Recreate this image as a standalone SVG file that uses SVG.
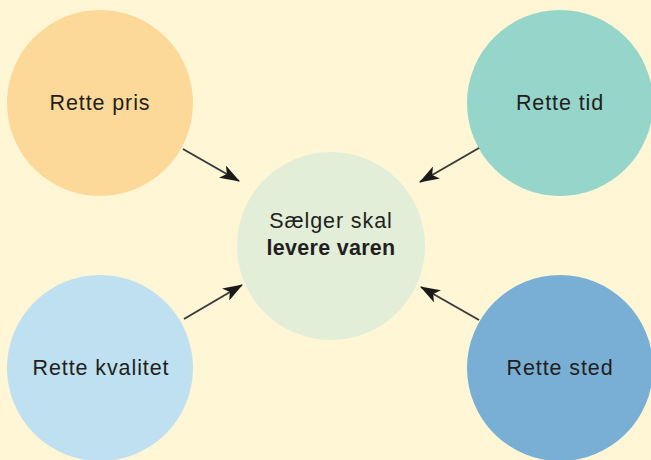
<svg xmlns="http://www.w3.org/2000/svg" width="651" height="460" viewBox="0 0 651 460">
  <style>
    .lbl { font-family: "Liberation Sans", Arial, sans-serif; font-size: 21.5px; letter-spacing: 0.9px; fill: #231f20; text-anchor: middle; }
    .bold { font-weight: bold; letter-spacing: 0.3px; }
    .conn { stroke: #3a3a3a; stroke-width: 2; fill: none; marker-end: url(#head); }
  </style>
  <defs>
    <marker id="head" viewBox="0 0 20 14" refX="19" refY="7" markerWidth="20" markerHeight="14" markerUnits="userSpaceOnUse" orient="auto">
      <path d="M0,0 L20,7 L0,14 L5,7 Z" fill="#1a1a1a"/>
    </marker>
  </defs>
  <rect width="651" height="460" fill="#fff6d6"/>

  <g id="node-pris">
    <circle cx="100" cy="103" r="93" fill="#fdd999"/>
    <text class="lbl" x="100" y="110">Rette pris</text>
  </g>
  <g id="node-tid">
    <circle cx="560" cy="103" r="93" fill="#96d5c9"/>
    <text class="lbl" x="560" y="110">Rette tid</text>
  </g>
  <g id="node-kvalitet">
    <circle cx="100" cy="368" r="93" fill="#bee0f0"/>
    <text class="lbl" x="101" y="375">Rette kvalitet</text>
  </g>
  <g id="node-sted">
    <circle cx="560" cy="368" r="93" fill="#7aafd5"/>
    <text class="lbl" x="560" y="375">Rette sted</text>
  </g>
  <g id="node-center">
    <circle cx="331" cy="246" r="94" fill="#e2eed8"/>
    <text class="lbl" x="331" y="228">Sælger skal</text>
    <text class="lbl bold" x="331" y="255">levere varen</text>
  </g>

  <g id="connectors">
    <line class="conn" x1="183" y1="149" x2="239" y2="181"/>
    <line class="conn" x1="479" y1="148" x2="420" y2="182"/>
    <line class="conn" x1="184" y1="319" x2="242" y2="285"/>
    <line class="conn" x1="479" y1="320" x2="421" y2="287"/>
  </g>
</svg>
